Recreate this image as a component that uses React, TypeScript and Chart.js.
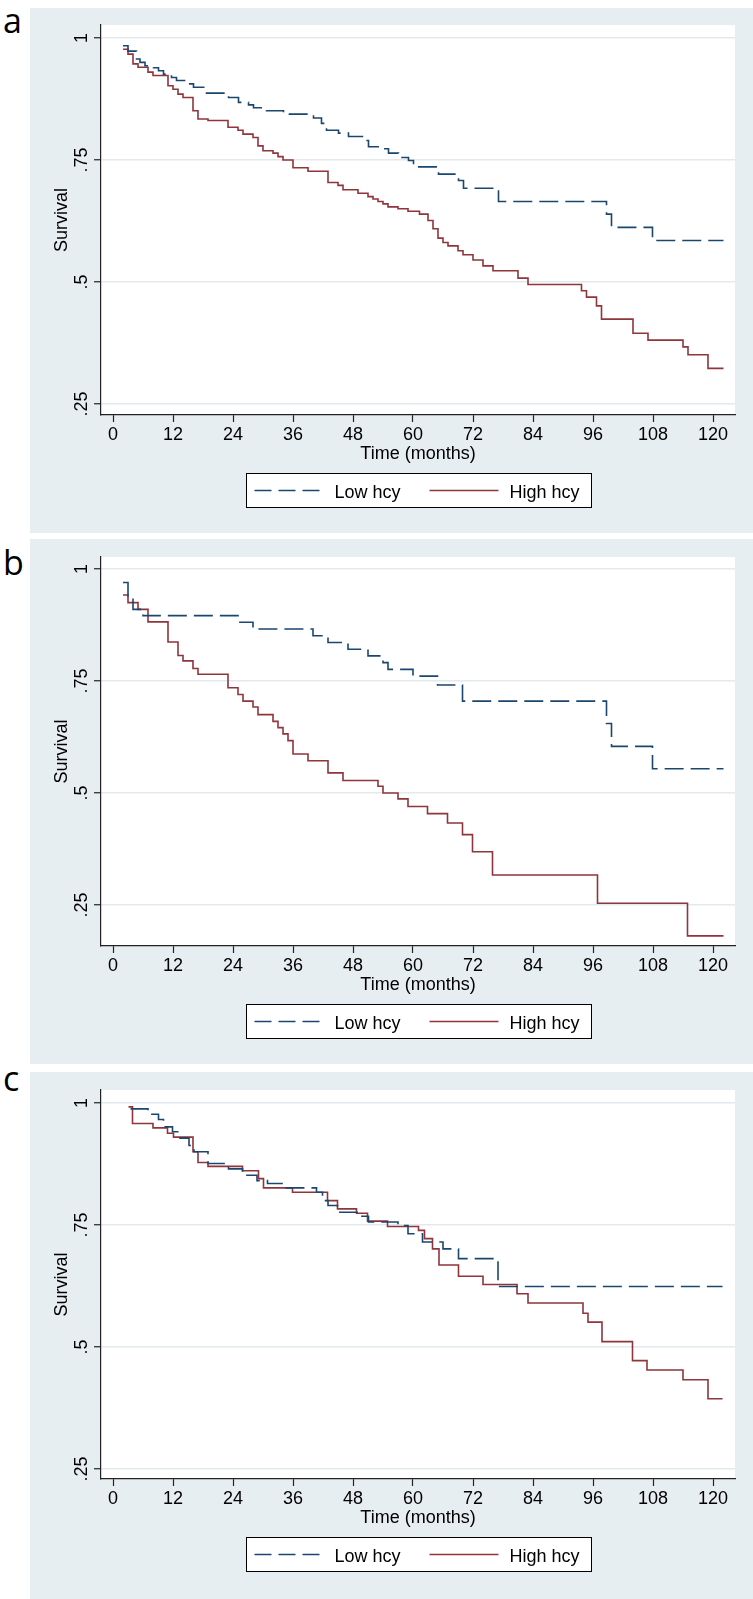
import React, { useEffect, useRef } from "react";
import { Chart, registerables } from "chart.js";

Chart.register(...registerables);

// ---------- axis / labels ----------
const xTickValues = [0, 12, 24, 36, 48, 60, 72, 84, 96, 108, 120];
const yTickValues = [0.25, 0.5, 0.75, 1];
const yTickLabels = [".25", ".5", ".75", "1"];
const seriesLabels = ["Low hcy", "High hcy"];
const xAxisTitle = "Time (months)";
const yAxisTitle = "Survival";
const panelLetters = ["a", "b", "c"];

// ---------- panel a ----------
const aLowT = [2, 3, 4.7, 5.4, 6.4, 8.1, 9.1, 10.1, 11.7, 12.7, 15.1, 16.1, 18.7, 23.1, 25.1, 27.1, 28.1, 30.7, 34.1, 40.1, 41.7, 42.7, 45.1, 47.1, 50.1, 51.1, 54.1, 55.1, 57.1, 59.1, 60.1, 65.1, 69.1, 70.1, 77.1, 98.7, 99.7, 107.9, 122.1];
const aLowS = [0.984, 0.973, 0.957, 0.95, 0.943, 0.939, 0.933, 0.926, 0.919, 0.913, 0.906, 0.899, 0.887, 0.878, 0.868, 0.863, 0.857, 0.851, 0.844, 0.836, 0.825, 0.811, 0.805, 0.798, 0.79, 0.777, 0.773, 0.764, 0.755, 0.749, 0.736, 0.721, 0.708, 0.692, 0.665, 0.639, 0.612, 0.585, 0.585];
const aHighT = [2, 3, 4, 5, 7, 8, 11, 12, 13, 14, 16, 17, 19, 23, 25, 26, 28, 29, 30, 32, 33, 34, 36, 39, 43, 45, 46, 49, 51, 52, 53, 54, 55, 57, 59, 61.3, 63, 64, 65, 66, 67, 69, 70, 72, 74, 76, 81, 83, 93.7, 94.7, 96.7, 97.7, 104, 107, 114, 115, 119, 122.1];
const aHighS = [0.977, 0.967, 0.947, 0.94, 0.93, 0.923, 0.902, 0.895, 0.885, 0.878, 0.851, 0.834, 0.831, 0.817, 0.811, 0.803, 0.796, 0.779, 0.769, 0.764, 0.757, 0.75, 0.734, 0.727, 0.704, 0.698, 0.689, 0.682, 0.675, 0.67, 0.665, 0.66, 0.654, 0.65, 0.645, 0.639, 0.626, 0.609, 0.59, 0.581, 0.574, 0.564, 0.556, 0.545, 0.533, 0.523, 0.508, 0.495, 0.482, 0.469, 0.451, 0.424, 0.395, 0.381, 0.367, 0.351, 0.323, 0.323];

// ---------- panel b ----------
const bLowT = [2, 3, 4, 6, 25, 28, 40, 43, 47, 51, 54, 55, 60, 64.9, 69.9, 98.7, 99.7, 107.9, 122.1];
const bLowS = [0.97, 0.94, 0.91, 0.896, 0.881, 0.866, 0.851, 0.836, 0.821, 0.806, 0.791, 0.776, 0.761, 0.741, 0.705, 0.655, 0.604, 0.554, 0.554];
const bHighT = [2, 3, 5, 7, 11, 13, 14, 16, 17, 23, 25, 26, 28, 29, 32, 33, 34, 35, 36, 39, 43, 46, 53, 54, 57, 59, 62.9, 66.9, 69.9, 71.9, 75.9, 96.9, 114.9, 122.1];
const bHighS = [0.942, 0.925, 0.91, 0.882, 0.837, 0.807, 0.795, 0.778, 0.765, 0.735, 0.72, 0.705, 0.692, 0.675, 0.66, 0.646, 0.632, 0.617, 0.587, 0.572, 0.545, 0.528, 0.515, 0.5, 0.487, 0.47, 0.454, 0.433, 0.407, 0.369, 0.317, 0.254, 0.181, 0.181];

// ---------- panel c ----------
const cLowT = [3.5, 7, 9.1, 10.1, 11.9, 13.2, 15.2, 16.2, 19, 23.1, 25.9, 28.8, 30.9, 34, 40.7, 41.9, 43, 44.9, 48.8, 51.1, 57, 59, 61.9, 66, 69.1, 77, 121.9];
const cLowS = [0.988, 0.977, 0.966, 0.951, 0.941, 0.928, 0.913, 0.9, 0.876, 0.865, 0.852, 0.841, 0.835, 0.826, 0.817, 0.8, 0.79, 0.776, 0.768, 0.756, 0.749, 0.732, 0.715, 0.701, 0.681, 0.624, 0.624];
const cHighT = [3.1, 3.9, 8, 10.9, 12.1, 16, 17, 19, 25.9, 29.1, 30.1, 35.9, 42.9, 44.9, 48.7, 50.9, 54.9, 61.1, 62.3, 63.9, 65.2, 69.1, 74, 80.8, 83, 94, 95, 97.8, 103.9, 106.8, 114, 119, 121.9];
const cHighS = [0.992, 0.958, 0.949, 0.938, 0.93, 0.9, 0.878, 0.87, 0.861, 0.845, 0.826, 0.817, 0.8, 0.783, 0.774, 0.758, 0.747, 0.739, 0.722, 0.701, 0.668, 0.645, 0.628, 0.609, 0.59, 0.569, 0.551, 0.511, 0.472, 0.453, 0.433, 0.394, 0.394];

const BLUE = "#1a476f";
const RED = "#90353b";
const BG = "#e7eef1";
const GRID = "#e3eaee";
const AXIS = "#222222";
const FONT = "'Liberation Sans', Arial, Helvetica, sans-serif";
const LOW_DASH = [19, 7];

const toPoints = (t: number[], s: number[]) => t.map((x, i) => ({ x, y: s[i] }));

const CANVAS_W = 723;
const CANVAS_H = 525;

const decorPlugin = {
  id: "stataDecor",
  beforeDraw(chart: any) {
    const { ctx, chartArea: ca } = chart;
    ctx.save();
    ctx.fillStyle = "#ffffff";
    ctx.fillRect(ca.left, ca.top, ca.right - ca.left, ca.bottom - ca.top);
    ctx.restore();
  },
  afterDraw(chart: any) {
    const { ctx, chartArea: ca } = chart;
    const ys = chart.scales.y;
    ctx.save();
    ctx.fillStyle = "#000";
    ctx.font = `18px ${FONT}`;
    // rotated y tick labels
    yTickValues.forEach((v, i) => {
      const py = ys.getPixelForValue(v);
      ctx.save();
      ctx.translate(ca.left - 14, py);
      ctx.rotate(-Math.PI / 2);
      ctx.textAlign = "center";
      ctx.textBaseline = "alphabetic";
      ctx.fillText(yTickLabels[i], 0, 0);
      ctx.restore();
    });
    // y title
    ctx.save();
    ctx.translate(ca.left - 34, (ca.top + ca.bottom) / 2);
    ctx.rotate(-Math.PI / 2);
    ctx.textAlign = "center";
    ctx.textBaseline = "alphabetic";
    ctx.fillText(yAxisTitle, 0, 0);
    ctx.restore();
    // x title
    const cx = (ca.left + ca.right) / 2;
    ctx.textAlign = "center";
    ctx.textBaseline = "alphabetic";
    ctx.fillText(xAxisTitle, cx, ca.bottom + 44);
    // legend
    const bw = 345;
    const bh = 34;
    const bx = Math.round(cx - bw / 2) + 0.5;
    const by = Math.round(ca.bottom + 58) + 0.5;
    ctx.fillStyle = "#fff";
    ctx.fillRect(bx, by, bw, bh);
    ctx.strokeStyle = "#000";
    ctx.lineWidth = 1;
    ctx.strokeRect(bx, by, bw, bh);
    const ly = by + 17;
    ctx.lineWidth = 1.6;
    ctx.strokeStyle = BLUE;
    ctx.setLineDash([17, 7]);
    ctx.beginPath();
    ctx.moveTo(bx + 8, ly);
    ctx.lineTo(bx + 75, ly);
    ctx.stroke();
    ctx.setLineDash([]);
    ctx.strokeStyle = RED;
    ctx.beginPath();
    ctx.moveTo(bx + 183, ly);
    ctx.lineTo(bx + 252, ly);
    ctx.stroke();
    ctx.fillStyle = "#000";
    ctx.textAlign = "left";
    ctx.fillText(seriesLabels[0], bx + 88, by + 24);
    ctx.fillText(seriesLabels[1], bx + 263, by + 24);
    ctx.restore();
  },
};

type PanelProps = {
  low: { x: number; y: number }[];
  high: { x: number; y: number }[];
  yMin: number;
  yMax: number;
  padTop: number;
  top: number;
  height: number;
};

function Panel({ low, high, yMin, yMax, padTop, top, height }: PanelProps) {
  const ref = useRef<HTMLCanvasElement | null>(null);
  useEffect(() => {
    if (!ref.current) return;
    const chart = new Chart(ref.current, {
      type: "line",
      data: {
        datasets: [
          {
            label: seriesLabels[0],
            data: low,
            borderColor: BLUE,
            borderWidth: 1.6,
            borderDash: LOW_DASH,
            stepped: "before",
            pointRadius: 0,
            fill: false,
          },
          {
            label: seriesLabels[1],
            data: high,
            borderColor: RED,
            borderWidth: 1.6,
            stepped: "before",
            pointRadius: 0,
            fill: false,
          },
        ],
      },
      options: {
        animation: false,
        responsive: false,
        devicePixelRatio: 1,
        layout: { padding: { top: padTop, right: 18, bottom: 0, left: 0 } },
        plugins: { legend: { display: false }, tooltip: { enabled: false } },
        scales: {
          x: {
            type: "linear",
            min: -2.4,
            max: 124.4,
            afterBuildTicks: (scale: any) => {
              scale.ticks = xTickValues.map((v) => ({ value: v }));
            },
            afterFit: (scale: any) => {
              scale.height = 118;
            },
            ticks: {
              autoSkip: false,
              maxRotation: 0,
              minRotation: 0,
              padding: 2,
              color: "#000",
              font: { family: FONT, size: 18 },
              callback: (v: any) => String(v),
            },
            grid: {
              drawOnChartArea: false,
              drawTicks: true,
              tickLength: 7,
              tickColor: AXIS,
              tickWidth: 1.2,
            },
            border: { display: true, color: AXIS, width: 1.2 },
          },
          y: {
            type: "linear",
            min: yMin,
            max: yMax,
            afterBuildTicks: (scale: any) => {
              scale.ticks = yTickValues.map((v) => ({ value: v }));
            },
            afterFit: (scale: any) => {
              scale.width = 71;
            },
            ticks: { display: false },
            grid: {
              color: GRID,
              lineWidth: 1.5,
              drawTicks: true,
              tickLength: 7,
              tickColor: AXIS,
              tickWidth: 1.2,
            },
            border: { display: true, color: AXIS, width: 1.2 },
          },
        },
      },
      plugins: [decorPlugin],
    } as any);
    return () => chart.destroy();
  }, []);
  return (
    <div
      style={{
        position: "absolute",
        left: 30,
        top,
        width: CANVAS_W,
        height,
        background: BG,
      }}
    >
      <canvas ref={ref} width={CANVAS_W} height={CANVAS_H} style={{ display: "block" }} />
    </div>
  );
}

const letterStyle = (top: number): React.CSSProperties => ({
  position: "absolute",
  left: 3,
  top,
  fontFamily: "'Open Sans', 'DejaVu Sans', sans-serif",
  fontSize: 34,
  lineHeight: "34px",
  color: "#000",
});

export default function App() {
  return (
    <div style={{ position: "absolute", left: 0, top: 0, width: 753, height: 1599, background: "#fff" }}>
      <div style={letterStyle(3)}>{panelLetters[0]}</div>
      <div style={letterStyle(545)}>{panelLetters[1]}</div>
      <div style={letterStyle(1061)}>{panelLetters[2]}</div>
      <Panel low={toPoints(aLowT, aLowS)} high={toPoints(aHighT, aHighS)} yMin={0.2275} yMax={1.0266} padTop={17} top={8} height={525} />
      <Panel low={toPoints(bLowT, bLowS)} high={toPoints(bHighT, bHighS)} yMin={0.1585} yMax={1.0268} padTop={18} top={539} height={525} />
      <Panel low={toPoints(cLowT, cLowS)} high={toPoints(cHighT, cHighS)} yMin={0.2295} yMax={1.0266} padTop={18} top={1072} height={527} />
    </div>
  );
}
